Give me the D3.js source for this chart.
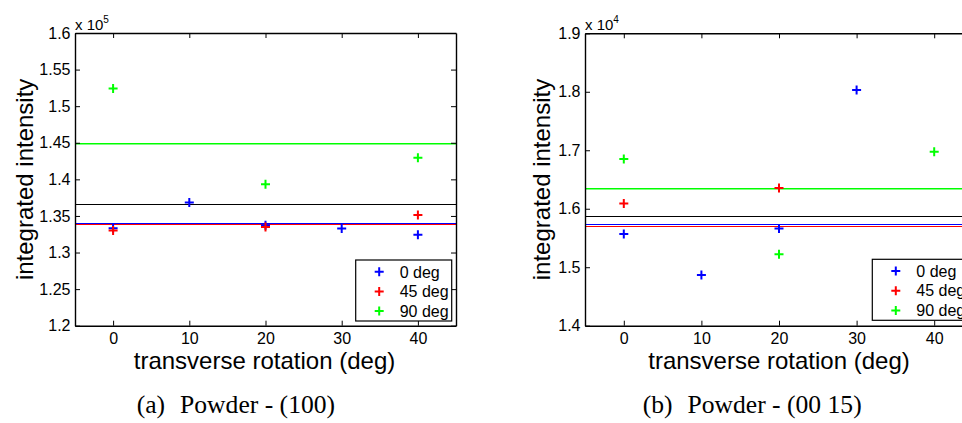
<!DOCTYPE html>
<html><head><meta charset="utf-8">
<script src="https://cdn.jsdelivr.net/npm/d3@7"></script>
<style>
html,body{margin:0;padding:0;background:#fff;overflow:hidden;}
svg{font-family:"Liberation Sans",Arial,Helvetica,sans-serif;}
text{fill:#000;}
text.cap{font-family:"Liberation Serif","Times New Roman",Times,serif;}
</style></head>
<body>
<svg id="chart" width="962" height="423"></svg>
<script>
// ---------- data ----------
const xTicks = [0, 10, 20, 30, 40];
const seriesNames = ["0 deg", "45 deg", "90 deg"];
const seriesColors = ["#0000ff", "#ff0000", "#00ff00"];

// Panel (a): Powder - (100), values in units of 1e5
const a_x0 = [0, 10, 20, 30, 40];
const a_y0 = [1.3331, 1.3685, 1.3372, 1.3330, 1.3244];
const a_x45 = [0, 20, 40];
const a_y45 = [1.3300, 1.3349, 1.3513];
const a_x90 = [0, 20, 40];
const a_y90 = [1.5240, 1.3932, 1.4296];
const a_means = [1.3398, 1.3384, 1.4495]; // 0, 45, 90 deg means
const a_meanAll = 1.3662;
const a_yTicks = [1.2, 1.25, 1.3, 1.35, 1.4, 1.45, 1.5, 1.55, 1.6];
const a_yTickLabels = ["1.2", "1.25", "1.3", "1.35", "1.4", "1.45", "1.5", "1.55", "1.6"];

// Panel (b): Powder - (00 15), values in units of 1e4
const b_x0 = [0, 10, 20, 30];
const b_y0 = [1.5570, 1.4867, 1.5660, 1.8030];
const b_x45 = [0, 20];
const b_y45 = [1.6090, 1.6355];
const b_x90 = [0, 20, 40];
const b_y90 = [1.6850, 1.5220, 1.6975];
const b_means = [1.5744, 1.5700, 1.6350];
const b_meanAll = 1.5880;
const b_yTicks = [1.4, 1.5, 1.6, 1.7, 1.8, 1.9];
const b_yTickLabels = ["1.4", "1.5", "1.6", "1.7", "1.8", "1.9"];

const svg = d3.select("#chart");

function panel(cfg) {
  const x = d3.scaleLinear().domain([-5, 45]).range([cfg.left, cfg.right]);
  const y = d3.scaleLinear().domain(cfg.yDomain).range([cfg.bottom, cfg.top]);
  const g = svg.append("g");

  // mean lines (drawn as thin rects spanning the axes)
  const lines = g.append("g");
  const x0 = x(-5), w = x(45) - x(-5);
  lines.append("rect").attr("x", x0).attr("width", w)
    .attr("y", Math.round(y(cfg.meanAll))).attr("height", 1)
    .attr("fill", "#000");
  cfg.means.forEach((m, i) => {
    lines.append("rect").attr("x", x0).attr("width", w)
      .attr("y", Math.round(y(m))).attr("height", i === 2 ? 1.5 : 1)
      .attr("fill", seriesColors[i]);
  });

  // axes (box with inward ticks)
  const tl = 5;
  const bottomAx = d3.axisBottom(x).tickValues(xTicks).tickSizeInner(-tl).tickSizeOuter(0).tickPadding(7);
  const topAx = d3.axisTop(x).tickValues(xTicks).tickSizeInner(-tl).tickSizeOuter(0).tickFormat("");
  const leftAx = d3.axisLeft(y).tickValues(cfg.yTicks).tickSizeInner(-tl).tickSizeOuter(0).tickPadding(4.5)
    .tickFormat((d, i) => cfg.yTickLabels[i]);
  const rightAx = d3.axisRight(y).tickValues(cfg.yTicks).tickSizeInner(-tl).tickSizeOuter(0).tickFormat("");
  const axs = [
    g.append("g").attr("transform", `translate(0,${cfg.bottom})`).call(bottomAx),
    g.append("g").attr("transform", `translate(0,${cfg.top})`).call(topAx),
    g.append("g").attr("transform", `translate(${cfg.left},0)`).call(leftAx),
    g.append("g").attr("transform", `translate(${cfg.right},0)`).call(rightAx)
  ];
  axs.forEach(a => {
    a.attr("font-family", null).attr("font-size", null);
    a.selectAll("path").attr("stroke", "#000").attr("stroke-width", 1.4);
    a.selectAll("line").attr("stroke", "#000").attr("stroke-width", 1);
    a.selectAll("text").style("font-size", "16px").attr("fill", "#000");
  });

  // markers
  const sets = [[cfg.x0, cfg.y0], [cfg.x45, cfg.y45], [cfg.x90, cfg.y90]];
  const hs = 4.5;
  sets.forEach((s, i) => {
    const mg = g.append("g");
    s[0].forEach((xv, k) => {
      const cx = x(xv), cy = y(s[1][k]);
      mg.append("path")
        .attr("d", `M${cx - hs},${cy}H${cx + hs}M${cx},${cy - hs}V${cy + hs}`)
        .attr("stroke", seriesColors[i]).attr("stroke-width", 2).attr("fill", "none");
    });
  });

  // exponent
  const ex = g.append("text").attr("x", cfg.left).attr("y", cfg.top - 3).style("font-size", "15px");
  ex.append("tspan").text("x 10");
  ex.append("tspan").attr("dy", -7).style("font-size", "10px").text(cfg.exp);

  // axis labels
  g.append("text").attr("x", cfg.xlabX)
    .attr("y", cfg.bottom + 43).attr("text-anchor", "middle").style("font-size", "24px")
    .text("transverse rotation (deg)");
  g.append("text").attr("transform", `translate(${cfg.ylabX},${(cfg.top + cfg.bottom) / 2}) rotate(-90)`)
    .attr("text-anchor", "middle").style("font-size", "24px").text("integrated intensity");

  // legend
  const lg = g.append("g").attr("transform", `translate(${cfg.legX},${cfg.legY})`);
  lg.append("rect").attr("width", 96).attr("height", 61).attr("fill", "#fff")
    .attr("stroke", "#000").attr("stroke-width", 1.2);
  seriesNames.forEach((n, i) => {
    const cy = 11.7 + i * 19.7;
    lg.append("path").attr("d", `M${23.5 - hs},${cy}H${23.5 + hs}M23.5,${cy - hs}V${cy + hs}`)
      .attr("stroke", seriesColors[i]).attr("stroke-width", 2);
    lg.append("text").attr("x", 44).attr("y", cy + 5.8).style("font-size", "16px").text(n);
  });

  // caption
  const cap = g.append("text").attr("class", "cap").attr("x", cfg.capX).attr("y", 413)
    .style("font-size", "25.6px");
  cap.append("tspan").text(cfg.capTag);
  cap.append("tspan").attr("dx", 15).text(cfg.caption);
}

panel({
  id: "a", left: 75, right: 456, top: 33, bottom: 325.7,
  yDomain: [1.2, 1.6], yTicks: a_yTicks, yTickLabels: a_yTickLabels,
  x0: a_x0, y0: a_y0, x45: a_x45, y45: a_y45, x90: a_x90, y90: a_y90,
  means: a_means, meanAll: a_meanAll, exp: "5", xlabX: 264.5, ylabX: 33,
  legX: 355.7, legY: 260, capX: 136.7, capTag: "(a)", caption: "Powder - (100)"
});
panel({
  id: "b", left: 585, right: 973, top: 33.3, bottom: 325.7,
  yDomain: [1.4, 1.9], yTicks: b_yTicks, yTickLabels: b_yTickLabels,
  x0: b_x0, y0: b_y0, x45: b_x45, y45: b_y45, x90: b_x90, y90: b_y90,
  means: b_means, meanAll: b_meanAll, exp: "4", xlabX: 779, ylabX: 550,
  legX: 872.3, legY: 259.3, capX: 642.7, capTag: "(b)", caption: "Powder - (00 15)"
});
</script>
</body></html>
